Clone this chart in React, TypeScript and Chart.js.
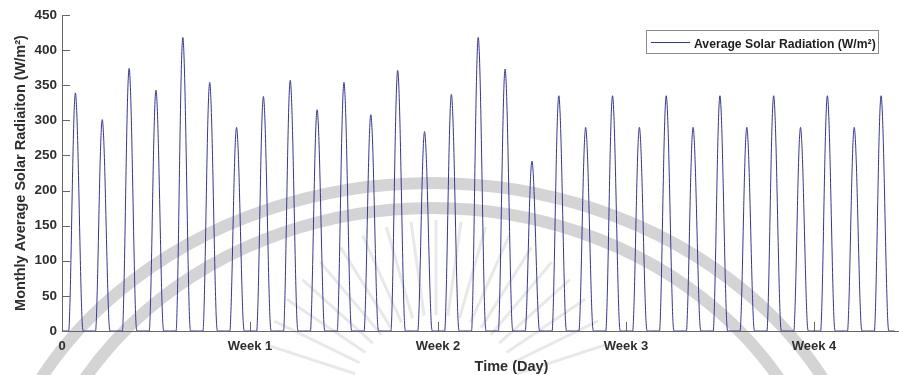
import { useEffect, useRef } from 'react';
import { Chart, registerables } from 'chart.js';

Chart.register(...registerables);

// Peak irradiance reached on each day of the month (W/m²)
const dailyPeaks = [
  339, 301, 374, 343, 418, 354, 290, 334, 357, 315, 354, 308, 371, 284, 337, 418,
  373, 242, 335, 290, 335, 290, 335, 290, 335, 290, 335, 290, 335, 290, 335,
];

// Hour-by-hour shape of a day, as a fraction of that day's peak (hours 0..23)
const hourlyShape = [
  0, 0, 0, 0, 0, 0, 0, 0.1, 0.3, 0.55, 0.78, 0.94,
  1.0, 0.94, 0.8, 0.6, 0.38, 0.18, 0.04, 0, 0, 0, 0, 0,
];

// Week boundaries on the hour axis, with their labels
const weekTicks = [0, 168, 336, 504, 672];
const weekLabels = ['0', 'Week 1', 'Week 2', 'Week 3', 'Week 4'];

const Y_MAX = 450;
const Y_STEP = 50;
const X_MAX = 748;

const LINE_COLOR = 'rgb(52, 52, 165)';
const AXIS_COLOR = '#666666';
const TEXT_COLOR = '#2e2e2e';
const FONT_FAMILY = '"Liberation Sans", Arial, Helvetica, sans-serif';

const LEGEND_TEXT = 'Average Solar Radiation (W/m²)';
const X_TITLE = 'Time (Day)';
const Y_TITLE = 'Monthly Average Solar Radiaiton (W/m²)';

// Hourly series for the whole month
const radiationPoints: { x: number; y: number }[] = [];
dailyPeaks.forEach((peak, day) => {
  hourlyShape.forEach((share, hour) => {
    radiationPoints.push({ x: day * 24 + hour, y: peak * share });
  });
});
radiationPoints.push({ x: dailyPeaks.length * 24, y: 0 });

// Faint emblem printed behind the figure
const watermarkPlugin = {
  id: 'watermark',
  beforeDraw(chart: Chart) {
    const { ctx, width, height } = chart;
    ctx.save();
    ctx.fillStyle = '#ffffff';
    ctx.fillRect(0, 0, width, height);

    ctx.strokeStyle = 'rgba(0,0,0,0.17)';
    ctx.lineWidth = 12;
    ctx.beginPath();
    ctx.ellipse(432, 560, 446, 377, 0, Math.PI, 2 * Math.PI);
    ctx.stroke();
    ctx.beginPath();
    ctx.ellipse(432, 560, 405, 352, 0, Math.PI, 2 * Math.PI);
    ctx.stroke();

    ctx.strokeStyle = 'rgba(0,0,0,0.09)';
    ctx.lineWidth = 3;
    const cx = 436;
    const cy = 400;
    for (let deg = 198; deg <= 342; deg += 8) {
      const a = (deg * Math.PI) / 180;
      ctx.beginPath();
      ctx.moveTo(cx + Math.cos(a) * 85, cy + Math.sin(a) * 85);
      ctx.lineTo(cx + Math.cos(a) * 180, cy + Math.sin(a) * 180);
      ctx.stroke();
    }
    ctx.restore();
  },
};

// Inward tick marks, legend box and x-axis title
const decorPlugin = {
  id: 'decor',
  afterDraw(chart: Chart) {
    const { ctx, chartArea } = chart;
    const xs = chart.scales.x;
    const ys = chart.scales.y;
    ctx.save();

    ctx.strokeStyle = AXIS_COLOR;
    ctx.lineWidth = 1;
    ys.ticks.forEach((t) => {
      const y = Math.round(ys.getPixelForValue(t.value)) + 0.5;
      ctx.beginPath();
      ctx.moveTo(chartArea.left, y);
      ctx.lineTo(chartArea.left + 8, y);
      ctx.stroke();
    });
    xs.ticks.forEach((t) => {
      const x = Math.round(xs.getPixelForValue(t.value)) + 0.5;
      ctx.beginPath();
      ctx.moveTo(x, chartArea.bottom);
      ctx.lineTo(x, chartArea.bottom - 9);
      ctx.stroke();
    });

    // legend
    ctx.font = `bold 12.2px ${FONT_FAMILY}`;
    const tw = ctx.measureText(LEGEND_TEXT).width;
    const boxW = Math.round(tw + 50);
    const boxH = 23;
    const boxR = chartArea.right - 21;
    const boxL = boxR - boxW;
    const boxT = chartArea.top + 15;
    ctx.fillStyle = '#ffffff';
    ctx.fillRect(boxL, boxT, boxW, boxH);
    ctx.strokeStyle = '#8a8a8a';
    ctx.strokeRect(boxL + 0.5, boxT + 0.5, boxW, boxH);
    ctx.strokeStyle = LINE_COLOR;
    ctx.beginPath();
    ctx.moveTo(boxL + 5, boxT + 12.5);
    ctx.lineTo(boxL + 44, boxT + 12.5);
    ctx.stroke();
    ctx.fillStyle = '#1e1e1e';
    ctx.textBaseline = 'alphabetic';
    ctx.textAlign = 'left';
    ctx.fillText(LEGEND_TEXT, boxL + 48, boxT + 18);

    // x-axis title
    ctx.font = `bold 14.5px ${FONT_FAMILY}`;
    ctx.fillStyle = TEXT_COLOR;
    ctx.textAlign = 'center';
    ctx.fillText(X_TITLE, chartArea.left + (chartArea.right - chartArea.left) * 0.537, chartArea.bottom + 40);
    ctx.restore();
  },
};

export default function App() {
  const canvasRef = useRef<HTMLCanvasElement>(null);

  useEffect(() => {
    document.body.style.margin = '0';
    const canvas = canvasRef.current;
    if (!canvas) return;

    const chart = new Chart(canvas, {
      type: 'line',
      data: {
        datasets: [
          {
            label: LEGEND_TEXT,
            data: radiationPoints,
            borderColor: LINE_COLOR,
            borderWidth: 1,
            pointRadius: 0,
            fill: false,
            cubicInterpolationMode: 'monotone',
          },
        ],
      },
      options: {
        responsive: false,
        animation: false,
        devicePixelRatio: 1,
        layout: { padding: { top: 15, left: 0, right: 0, bottom: 0 } },
        plugins: {
          legend: { display: false },
          tooltip: { enabled: false },
        },
        scales: {
          x: {
            type: 'linear',
            min: 0,
            max: X_MAX,
            afterBuildTicks: (scale) => {
              scale.ticks = weekTicks.map((v) => ({ value: v }));
            },
            afterFit: (scale) => {
              scale.height = 44;
            },
            grid: { display: false, drawTicks: false },
            border: { display: true, color: AXIS_COLOR, width: 1 },
            ticks: {
              autoSkip: false,
              maxRotation: 0,
              padding: 8,
              color: TEXT_COLOR,
              font: { family: FONT_FAMILY, size: 13, weight: 'bold' },
              callback: (v) => weekLabels[weekTicks.indexOf(Number(v))] ?? '',
            },
          },
          y: {
            min: 0,
            max: Y_MAX,
            afterFit: (scale) => {
              scale.width = 62;
            },
            grid: { display: false, drawTicks: false },
            border: { display: true, color: AXIS_COLOR, width: 1 },
            ticks: {
              stepSize: Y_STEP,
              padding: 5,
              color: TEXT_COLOR,
              font: { family: FONT_FAMILY, size: 13.5, weight: 'bold' },
            },
            title: {
              display: true,
              text: Y_TITLE,
              color: TEXT_COLOR,
              padding: { top: 12, bottom: 0 },
              font: { family: FONT_FAMILY, size: 14.5, weight: 'bold' },
            },
          },
        },
      },
      plugins: [watermarkPlugin, decorPlugin],
    });

    return () => chart.destroy();
  }, []);

  return (
    <div style={{ width: 899, height: 375 }}>
      <canvas ref={canvasRef} width={899} height={375} />
    </div>
  );
}
